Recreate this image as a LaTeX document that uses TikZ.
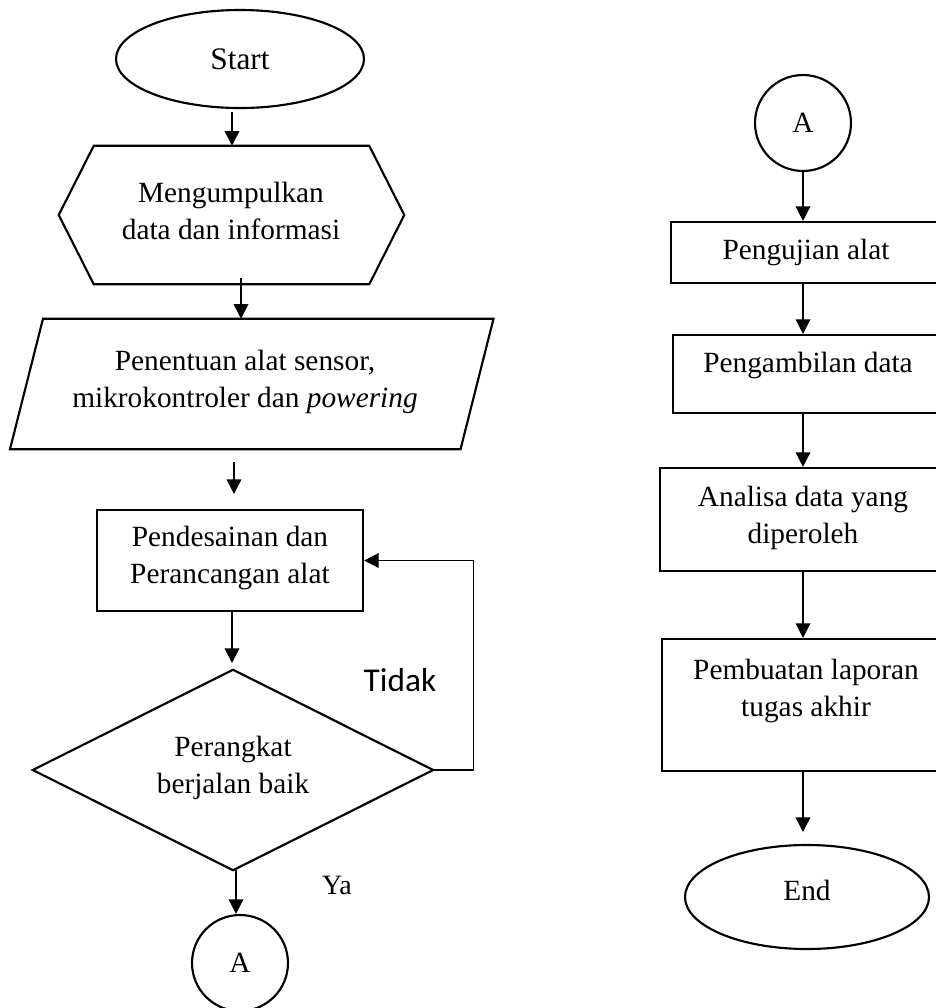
\documentclass[tikz,border=0pt]{standalone}
\usepackage{fontspec}
\setmainfont{Liberation Serif}
\newfontfamily\calibrifont{Carlito}
\usetikzlibrary{shapes.geometric,arrows.meta,calc}
\begin{document}
\begin{tikzpicture}[x=0.75pt,y=-0.75pt,
  shp/.style={draw, line width=1.6pt},
  txt/.style={align=center, inner sep=0, font=\fontsize{22}{27.75}\selectfont},
  arr/.style={line width=1.1pt, -{Triangle[width=11pt,length=11pt]}},
  lbl/.style={inner sep=0}]
\useasboundingbox (0,0) rectangle (936,1008);
\clip (0,0) rectangle (936,1008);

% ---------- left column ----------
\node[shp, ellipse, inner sep=0, minimum width=186pt, minimum height=73.5pt,
      font=\fontsize{23.5}{28}\selectfont] (start) at (240,59) {Start};

\node[inner sep=0, minimum width=206.25pt, minimum height=103.5pt] (hex) at (231.5,215) {};
\draw[shp] (hex.north west) -- (hex.north east) -- ($(hex.east)+(35,0)$)
  -- (hex.south east) -- (hex.south west) -- ($(hex.west)+(-35,0)$) -- cycle;
\node[txt] (hextxt) at (231,211) {Mengumpulkan\\data dan informasi};

\node[inner sep=0, minimum width=337.5pt, minimum height=97.5pt] (para) at (251.75,384) {};
\draw[shp] ($(para.north west)+(16.5,0)$) -- ($(para.north east)+(16.5,0)$)
  -- ($(para.south east)+(-16.5,0)$) -- ($(para.south west)+(-16.5,0)$) -- cycle;
\node[txt] (paratxt) at (245,382) {Penentuan alat sensor,\\mikrokontroler dan \textit{powering}};

\node[shp, rectangle, inner sep=0, minimum width=199.5pt, minimum height=75.75pt] (des) at (230,560.5) {};
\node[txt] (destxt) at (230,558) {Pendesainan dan\\Perancangan alat};

\node[inner sep=0, minimum width=300pt, minimum height=150pt] (dec) at (233,770) {};
\draw[shp] (dec.north) -- (dec.east) -- (dec.south) -- (dec.west) -- cycle;
\node[txt] (dectxt) at (233,768) {Perangkat\\berjalan baik};

\node[shp, circle, inner sep=0, minimum size=72pt, font=\fontsize{22}{26}\selectfont] (ca1) at (240,963) {A};

\node[lbl, font=\calibrifont\fontsize{25}{30}\selectfont] (tidak) at (400,680) {Tidak};
\node[lbl, font=\fontsize{21}{26}\selectfont] (ya) at (337,885) {Ya};

\coordinate (a1s) at (232,112);
\coordinate (a2s) at (241,278);
\coordinate (a3s) at (234,462);
\coordinate (a3e) at (234,494);
\coordinate (a4s) at (232,611);
\coordinate (a4e) at (232,663);
\coordinate (a5s) at (236,870);

\draw[arr] (a1s) -- (a1s |- hex.north);
\draw[arr] (a2s) -- (a2s |- para.north);
\draw[arr] (a3s) -- (a3e);
\draw[arr] (a4s) -- (a4e);
\draw[arr] (a5s) -- (a5s |- ca1.north);
\draw[arr] (dec.east) -- ++(40,0) |- (des.east);

% ---------- right column ----------
\node[shp, circle, inner sep=0, minimum size=72pt, font=\fontsize{22}{26}\selectfont] (ca2) at (803,123) {A};

\node[shp, rectangle, inner sep=0, minimum width=205.5pt, minimum height=45.75pt] (r1) at (808,252.5) {};
\node[txt] (r1txt) at (806,252) {Pengujian alat};

\node[shp, rectangle, inner sep=0, minimum width=204pt, minimum height=58.5pt] (r2) at (809,374) {};
\node[txt] (r2txt) at (808,365) {Pengambilan data};

\node[shp, rectangle, inner sep=0, minimum width=217.5pt, minimum height=77.25pt] (r3) at (805,519.5) {};
\node[txt] (r3txt) at (803,518) {Analisa data yang\\diperoleh};

\node[shp, rectangle, inner sep=0, minimum width=216pt, minimum height=99pt] (r4) at (806,705) {};
\node[txt] (r4txt) at (806,691) {Pembuatan laporan\\tugas akhir};

\node[shp, ellipse, inner sep=0, minimum width=183pt, minimum height=78pt] (end) at (807,897) {};
\node[txt] (endtxt) at (807,890) {End};

\coordinate (e5) at (803,832);

\draw[arr] (ca2.south) -- (ca2.south |- r1.north);
\draw[arr] (r1.south -| ca2.south) -- (r2.north -| ca2.south);
\draw[arr] (r2.south -| ca2.south) -- (r3.north -| ca2.south);
\draw[arr] (r3.south -| ca2.south) -- (r4.north -| ca2.south);
\draw[arr] (r4.south -| ca2.south) -- (e5);
\end{tikzpicture}
\end{document}
